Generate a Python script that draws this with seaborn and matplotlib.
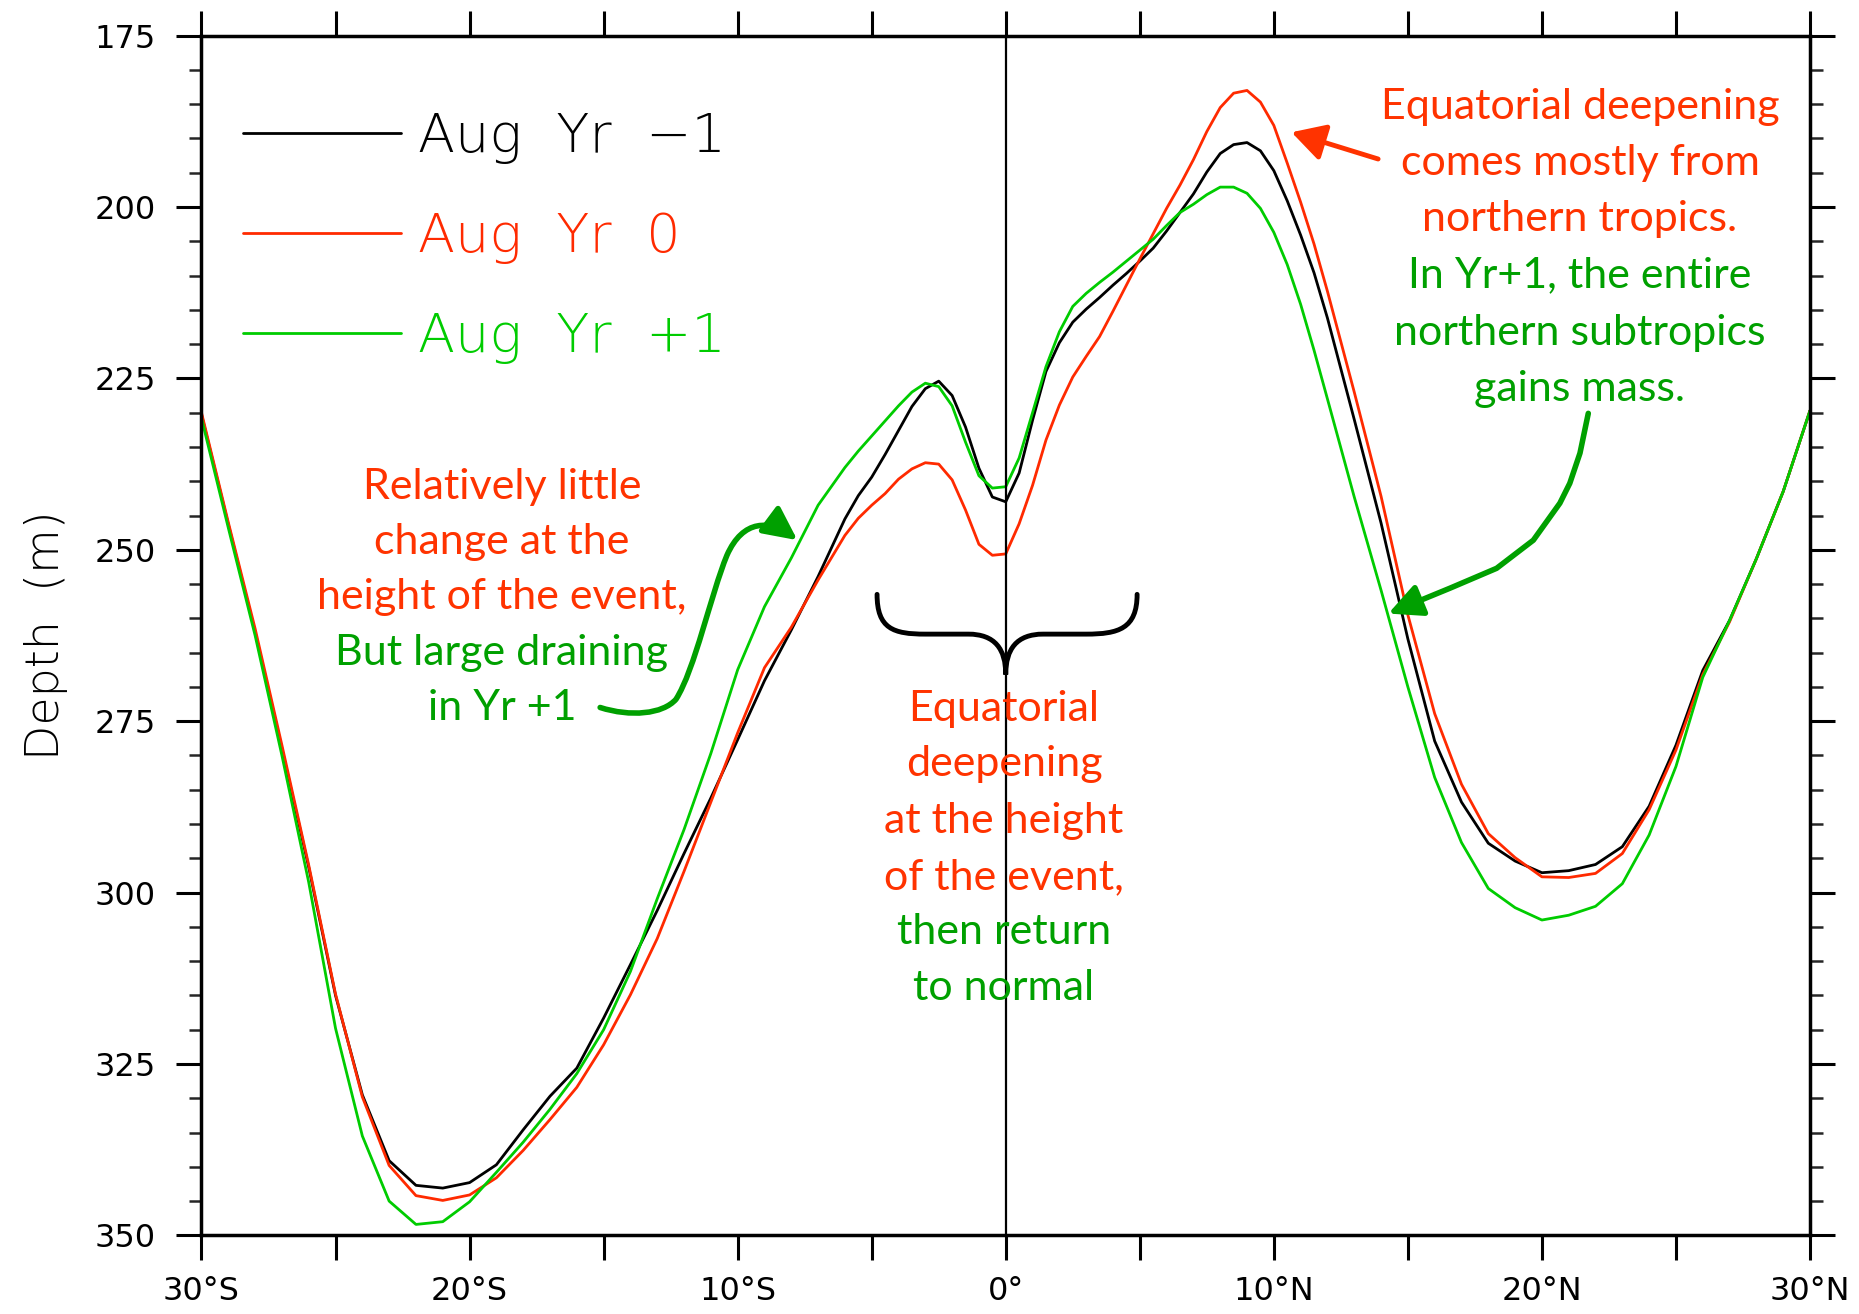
import numpy as np
import pandas as pd
import matplotlib
matplotlib.use("Agg")
import matplotlib.pyplot as plt
import seaborn as sns
from matplotlib.ticker import MultipleLocator, NullLocator
from matplotlib.path import Path
from matplotlib.patches import PathPatch, FancyArrowPatch

# Zonal-mean thermocline depth (m) against latitude (deg, negative = south)
lat = [-30, -29, -28, -27, -26, -25, -24, -23, -22, -21, -20, -19, -18, -17, -16,
       -15, -14, -13, -12, -11, -10, -9, -8, -7, -6,
       -5.5, -5, -4.5, -4, -3.5, -3, -2.5, -2, -1.5, -1, -0.5, 0, 0.5, 1, 1.5, 2,
       2.5, 3, 3.5, 4, 4.5, 5, 5.5, 6, 6.5, 7, 7.5, 8, 8.5, 9, 9.5, 10, 10.5, 11,
       11.5, 12,
       13, 14, 15, 16, 17, 18, 19, 20, 21, 22, 23, 24, 25, 26, 27, 28, 29, 30]

depth_yr_m1 = [230.3, 246.3, 262.0, 279.0, 296.3, 315.0, 329.5, 339.1, 342.7, 343.1,
               342.3, 339.7, 334.6, 329.7, 325.6, 318.3, 310.5, 302.6, 294.3, 286.2,
               277.7, 269.1, 261.7, 253.9, 245.5,
               242.1, 239.4, 236.1, 232.6, 229.1, 226.5, 225.4, 227.5, 232.1, 238.1,
               242.3, 243.0, 238.8, 231.1, 224.0, 219.8, 216.8, 214.9, 213.2, 211.4,
               209.7, 207.9, 206.0, 203.5, 200.8, 198.1, 194.9, 192.2, 190.9, 190.6,
               191.8, 194.7, 199.1, 204.1, 209.6, 216.2,
               231.0, 246.1, 263.0, 277.9, 286.8, 292.8, 295.4, 297.1, 296.8, 295.9,
               293.3, 287.4, 278.5, 267.6, 260.3, 251.3, 241.5, 229.7]

depth_yr_0 = [230.0, 246.0, 261.5, 278.5, 296.0, 314.8, 329.8, 339.8, 344.2, 344.9,
              344.1, 341.6, 337.6, 333.1, 328.4, 322.2, 314.9, 306.7, 296.9, 286.8,
              276.7, 267.2, 261.3, 254.4, 247.9,
              245.4, 243.5, 241.8, 239.7, 238.2, 237.3, 237.5, 239.8, 244.2, 249.2,
              250.8, 250.6, 246.2, 240.6, 234.0, 228.9, 224.8, 221.8, 218.9, 215.2,
              211.4, 207.6, 203.9, 200.2, 196.8, 193.1, 189.0, 185.5, 183.4, 183.0,
              184.7, 188.1, 193.6, 199.3, 205.4, 212.3,
              227.0, 242.2, 259.5, 273.9, 284.2, 291.4, 294.9, 297.7, 297.8, 297.2,
              294.3, 287.9, 279.2, 268.2, 260.5, 251.3, 241.5, 229.7]

depth_yr_p1 = [230.8, 246.8, 262.5, 280.0, 298.5, 319.8, 335.5, 345.0, 348.4, 348.0,
               345.1, 340.8, 336.4, 331.6, 326.4, 320.0, 311.5, 300.9, 290.8, 279.7,
               267.5, 258.3, 251.2, 243.5, 238.0,
               235.6, 233.4, 231.2, 229.0, 227.0, 225.7, 226.2, 229.0, 234.3, 239.2,
               241.0, 240.8, 236.6, 230.0, 223.3, 218.2, 214.5, 212.6, 211.0, 209.5,
               207.9, 206.3, 204.7, 202.7, 200.8, 199.6, 198.2, 197.1, 197.1, 198.0,
               200.2, 203.7, 208.4, 214.2, 220.9, 228.0,
               242.3, 255.9, 270.0, 283.2, 292.7, 299.4, 302.2, 304.0, 303.3, 302.0,
               298.7, 291.6, 281.6, 268.6, 260.3, 251.3, 241.5, 229.7]

series_labels = ["Aug  Yr  \u22121", "Aug  Yr  0", "Aug  Yr  +1"]
line_colors = ["#000000", "#FF2A00", "#00CC00"]

x_ticks = [-30, -25, -20, -15, -10, -5, 0, 5, 10, 15, 20, 25, 30]
x_tick_labels = ["30°S", "", "20°S", "", "10°S", "", "0°", "", "10°N", "", "20°N", "", "30°N"]
y_ticks = [175, 200, 225, 250, 275, 300, 325, 350]

RED_TXT = "#FF3300"
GREEN_TXT = "#00A000"

sns.set_theme(style="ticks")
plt.rcParams["font.family"] = ["DejaVu Sans"]
plt.rcParams["axes.linewidth"] = 2.5

df = pd.DataFrame({
    "lat": lat * 3,
    "depth": depth_yr_m1 + depth_yr_0 + depth_yr_p1,
    "series": [series_labels[0]] * len(lat) + [series_labels[1]] * len(lat)
              + [series_labels[2]] * len(lat),
})

W, H = 1859, 1314
fig = plt.figure(figsize=(W / 100, H / 100), dpi=100)
fig.patch.set_facecolor("white")
ax = fig.add_axes([0.10839, 0.05982, 0.86525, 0.91309])
ax.set_facecolor("white")

sns.lineplot(data=df, x="lat", y="depth", hue="series", hue_order=series_labels,
             palette=dict(zip(series_labels, line_colors)), linewidth=2.0,
             estimator=None, sort=False, legend=False, ax=ax)

ax.axvline(0, color="black", lw=1.6, zorder=3)

ax.set_xlim(-30, 30)
ax.set_ylim(350, 175)
ax.set_xticks(x_ticks, labels=x_tick_labels)
ax.set_yticks(y_ticks)
ax.xaxis.set_minor_locator(NullLocator())
ax.yaxis.set_minor_locator(MultipleLocator(5))
for s in ax.spines.values():
    s.set_visible(True)
    s.set_linewidth(2.5)
    s.set_color("black")

ax.tick_params(axis="both", which="major", direction="out", length=18, width=2.2,
               top=True, right=True, labeltop=False, labelright=False,
               labelsize=23, colors="black")
ax.tick_params(axis="x", which="major", pad=11)
ax.tick_params(axis="y", which="major", pad=15)
ax.tick_params(axis="y", which="minor", direction="out", length=9, width=1.8,
               left=True, right=True)

ax.set_xlabel("")
ax.set_ylabel("Depth  (m)", fontsize=33, fontweight="light", color="black")
ax.yaxis.set_label_coords(-0.083, 0.5)

handles = ax.lines[:3]
leg = ax.legend(handles, series_labels, loc="upper left", bbox_to_anchor=(0.0258, 0.937),
                frameon=False, prop={"size": 39, "weight": "light"},
                handlelength=2.92, handletextpad=0.31, labelspacing=0.87,
                borderpad=0, borderaxespad=0, labelcolor=line_colors)


def label_line(text, x, y, color, size=31):
    fig.text(x / W, 1 - y / H, text, ha="center", va="baseline", color=color,
             fontsize=size, family=["Lato", "DejaVu Sans"])


# Left note
for t, yy, c in [("Relatively little", 498.5, RED_TXT),
                 ("change at the", 554, RED_TXT),
                 ("height of the event,", 609.5, RED_TXT),
                 ("But large draining", 665, GREEN_TXT),
                 ("in Yr +1", 720.5, GREEN_TXT)]:
    label_line(t, 502, yy, c)

# Equator note
for t, yy, c in [("Equatorial", 720.5, RED_TXT),
                 ("deepening", 776, RED_TXT),
                 ("at the height", 833, RED_TXT),
                 ("of the event,", 889, RED_TXT),
                 ("then return", 944, GREEN_TXT),
                 ("to normal", 1000, GREEN_TXT)]:
    label_line(t, 1004, yy, c)

# Northern note
for t, yy, c in [("Equatorial deepening", 118.5, RED_TXT),
                 ("comes mostly from", 175, RED_TXT),
                 ("northern tropics.", 230.5, RED_TXT),
                 ("In Yr+1, the entire", 287, GREEN_TXT),
                 ("northern subtropics", 345, GREEN_TXT),
                 ("gains mass.", 401.5, GREEN_TXT)]:
    label_line(t, 1580, yy, c)

# Curly brace above the equatorial note
brace_verts = [(-4.8, 256.5),
               (-4.8, 261.5), (-4.2, 262.3), (-3.0, 262.3),
               (-1.4, 262.3),
               (-0.4, 262.3), (0.0, 264.5), (0.0, 268.2),
               (0.0, 264.5), (0.4, 262.3), (1.4, 262.3),
               (3.0, 262.3),
               (4.2, 262.3), (4.9, 261.5), (4.9, 256.5)]
brace_codes = [Path.MOVETO,
               Path.CURVE4, Path.CURVE4, Path.CURVE4,
               Path.LINETO,
               Path.CURVE4, Path.CURVE4, Path.CURVE4,
               Path.CURVE4, Path.CURVE4, Path.CURVE4,
               Path.LINETO,
               Path.CURVE4, Path.CURVE4, Path.CURVE4]
ax.add_patch(PathPatch(Path(brace_verts, brace_codes), fill=False, lw=3.5,
                       edgecolor="black", capstyle="round", zorder=4))

# Curved green arrow on the left
left_verts = [(-15.13, 273.0),
              (-14.0, 274.4), (-12.8, 274.0), (-12.3, 271.8),
              (-11.6, 267.5), (-11.0, 256.5), (-10.4, 250.8),
              (-9.8, 245.5), (-8.8, 245.6), (-7.77, 248.6)]
left_codes = [Path.MOVETO] + [Path.CURVE4] * 9
ax.add_patch(FancyArrowPatch(path=Path(left_verts, left_codes),
                             arrowstyle="-|>,head_length=0.45,head_width=0.22",
                             mutation_scale=45, lw=4.0, color=GREEN_TXT, zorder=5))

# Green arrow on the right, drawn as a bent line
right_verts = [(21.73, 230.1), (21.42, 235.9), (21.04, 240.3), (20.67, 243.2),
               (19.68, 248.6), (18.31, 252.7), (16.57, 255.6), (14.27, 259.3)]
right_codes = [Path.MOVETO] + [Path.LINETO] * 7
ax.add_patch(FancyArrowPatch(path=Path(right_verts, right_codes),
                             arrowstyle="-|>,head_length=0.45,head_width=0.22",
                             mutation_scale=45, lw=4.0, color=GREEN_TXT,
                             joinstyle="round", zorder=5))

# Straight red arrow to the northern peak
ax.annotate("", xy=(10.66, 189.1), xytext=(13.89, 193.0),
            arrowprops=dict(arrowstyle="-|>,head_length=0.45,head_width=0.25",
                            mutation_scale=45, lw=3.5, color=RED_TXT,
                            shrinkA=0, shrinkB=0), zorder=5)

fig.savefig("out.png", dpi=100, facecolor="white")
